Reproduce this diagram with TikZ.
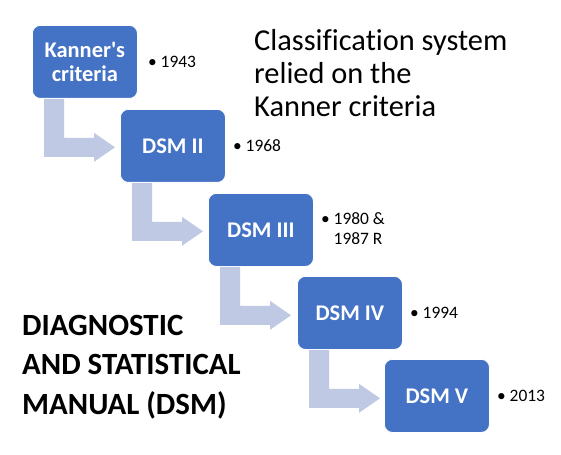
\documentclass[tikz,border=0pt]{standalone}
\usepackage{fontspec}
\setmainfont{Carlito}[Ligatures={NoCommon}]
\definecolor{boxblue}{HTML}{4472C4}
\definecolor{arrlight}{HTML}{C0C9E3}
\tikzset{
  stage/.style={rectangle, rounded corners=8bp, fill=boxblue, draw=white, line width=0.8bp,
    minimum width=105bp, minimum height=73bp, inner sep=2bp, text=white,
    font=\fontsize{22.5}{25}\selectfont\bfseries, align=center, anchor=north west},
  yearlbl/.style={anchor=west, inner sep=0pt, font=\fontsize{17.5}{20}\selectfont},
  bentarrow/.style={fill=arrlight, draw=none}
}
\newcommand{\bentarr}[1]{%
  \fill[bentarrow] ([shift={(12,0)}]#1.south west) -- ([shift={(32,0)}]#1.south west)
    -- ([shift={(32,39)}]#1.south west) -- ([shift={(62,39)}]#1.south west)
    -- ([shift={(62,34)}]#1.south west) -- ([shift={(83,48.5)}]#1.south west)
    -- ([shift={(62,63)}]#1.south west) -- ([shift={(62,58)}]#1.south west)
    -- ([shift={(12,58)}]#1.south west) -- cycle;}
\begin{document}
\begin{tikzpicture}[x=1bp,y=-1bp]
\useasboundingbox (0,0) rectangle (561,455);
\node[stage] (k) at (32,25) {Kanner\textquotesingle s\\criteria};
\node[stage] (d2) at (120,109) {DSM II};
\node[stage] (d3) at (208,193) {DSM III};
\node[stage] (d4) at (297,276) {DSM IV};
\node[stage] (d5) at (384,359) {DSM V};
\bentarr{k}
\bentarr{d2}
\bentarr{d3}
\bentarr{d4}
\node[yearlbl] (y1) at ([xshift=10bp]k.east) {•\hspace{4bp}1943};
\node[yearlbl] (y2) at ([xshift=7bp]d2.east) {•\hspace{4bp}1968};
\node[yearlbl] (y3) at ([xshift=7bp,yshift=-1bp]d3.east) {\begin{tabular}{@{}l@{\hspace{4bp}}l@{}}•&1980 \&\\ &1987 R\end{tabular}};
\node[yearlbl] (y4) at ([xshift=7bp]d4.east) {•\hspace{4bp}1994};
\node[yearlbl] (y5) at ([xshift=7bp]d5.east) {•\hspace{4bp}2013};
\node[anchor=north west, inner sep=0pt, align=left, font=\fontsize{30.5}{33}\selectfont] (title) at (254,29) {Classification system\\relied on the\\Kanner criteria};
\node[anchor=north west, inner sep=0pt, align=left, font=\fontsize{31}{39.5}\selectfont\bfseries] (dsm) at (22,315) {DIAGNOSTIC\\AND STATISTICAL\\MANUAL (DSM)};
\end{tikzpicture}
\end{document}
